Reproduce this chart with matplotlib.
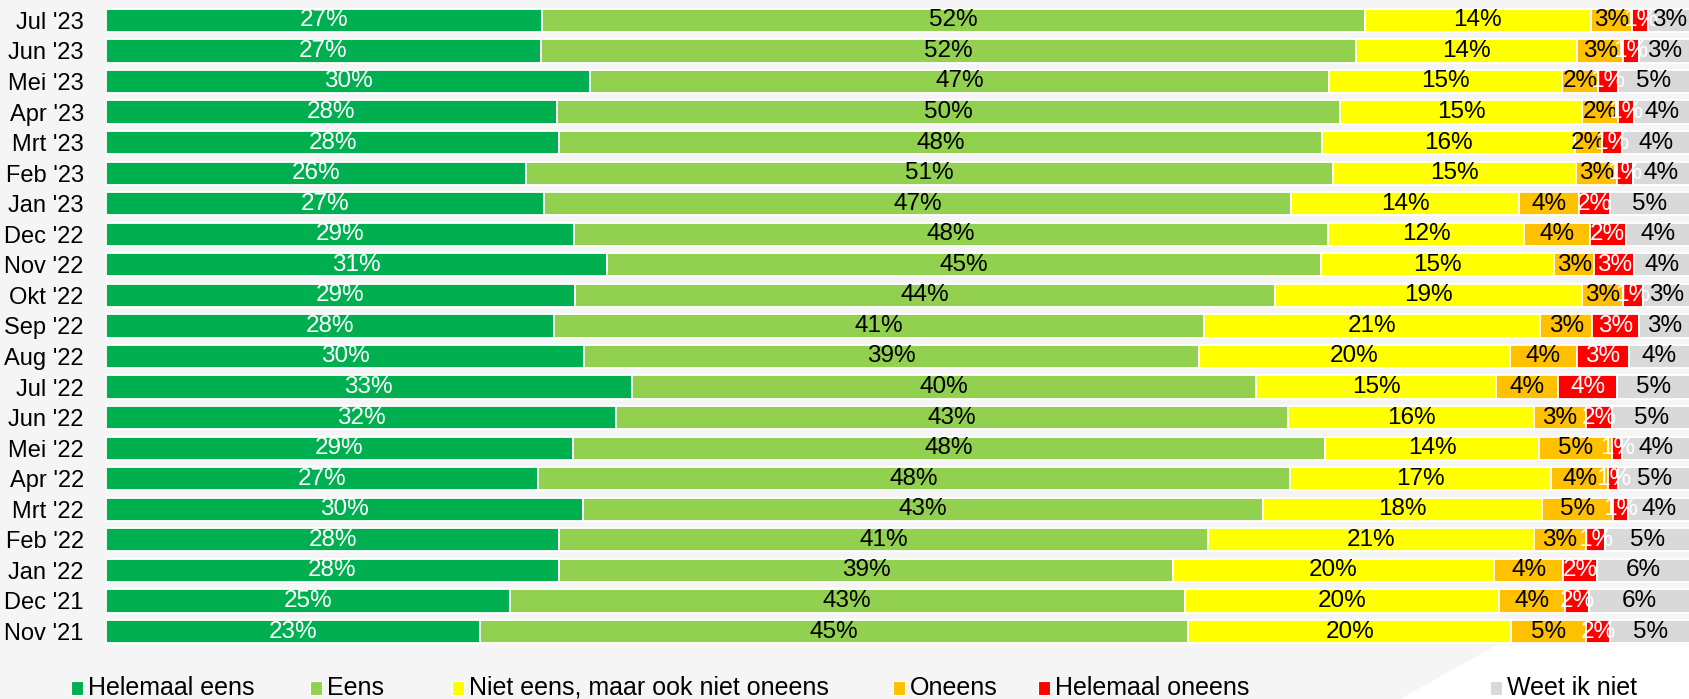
import numpy as np
import matplotlib
matplotlib.use("Agg")
import matplotlib.pyplot as plt
from matplotlib import font_manager
from matplotlib.patches import Rectangle, Polygon

# font: narrow sans if available
names = {f.name for f in font_manager.fontManager.ttflist}
fam = "Liberation Sans Narrow" if "Liberation Sans Narrow" in names else "Liberation Sans"
plt.rcParams["font.family"] = [fam, "DejaVu Sans"]

# data (top row first)
months = ["Jul '23", "Jun '23", "Mei '23", "Apr '23", "Mrt '23", "Feb '23", "Jan '23",
          "Dec '22", "Nov '22", "Okt '22", "Sep '22", "Aug '22", "Jul '22", "Jun '22",
          "Mei '22", "Apr '22", "Mrt '22", "Feb '22", "Jan '22", "Dec '21", "Nov '21"]

helemaal_eens = [27.49, 27.49, 30.49, 28.49, 28.49, 26.49, 27.49, 29.49, 31.49, 29.49, 28.26,
                 30.20, 33.25, 32.26, 29.49, 27.34, 30.09, 28.49, 28.49, 25.49, 23.49]
eens = [51.87, 51.51, 46.51, 49.51, 47.94, 50.91, 46.86, 47.51, 44.95, 44.03, 41.05,
        38.81, 39.51, 42.51, 47.51, 47.51, 42.93, 40.81, 38.64, 42.66, 44.51]
neutraal = [14.23, 13.98, 14.67, 15.28, 15.91, 15.28, 14.31, 12.37, 14.65, 19.27, 21.23,
            19.63, 15.20, 15.61, 13.53, 16.51, 17.63, 20.51, 20.16, 19.87, 20.27]
oneens = [2.63, 2.94, 2.29, 2.29, 1.68, 2.63, 3.79, 4.12, 2.53, 2.61, 3.28,
          4.21, 3.93, 3.24, 4.61, 3.64, 4.51, 3.24, 4.38, 4.17, 4.72]
helemaal_oneens = [1.01, 0.97, 1.22, 0.99, 1.24, 0.97, 1.89, 2.25, 2.51, 1.26, 2.93,
                   3.28, 3.69, 1.69, 0.63, 0.63, 0.95, 1.24, 2.13, 1.51, 1.52]
weet_niet = [2.63, 3.24, 4.56, 3.54, 4.29, 3.62, 5.05, 4.06, 3.51, 2.95, 3.24,
             3.87, 4.63, 4.92, 4.27, 4.53, 3.90, 5.32, 5.83, 6.36, 5.01]

series = ["Helemaal eens", "Eens", "Niet eens, maar ook niet oneens", "Oneens",
          "Helemaal oneens", "Weet ik niet"]
colors = ["#00B050", "#92D050", "#FFFF00", "#FFC000", "#FF0000", "#D9D9D9"]
text_colors = ["white", "black", "black", "black", "white", "black"]

vals = np.array([helemaal_eens, eens, neutraal, oneens, helemaal_oneens, weet_niet])
totals = vals.sum(axis=0)
widths = vals / totals * 100

fig = plt.figure(figsize=(16.9, 6.99), dpi=100)
fig.patch.set_facecolor("#F5F5F5")
# white corner shape bottom right
fig.patches.append(Polygon([(1497 / 1690, 1 - 645 / 699), (1, 1 - 645 / 699), (1, 0), (1400 / 1690, 0)],
                           closed=True, transform=fig.transFigure, facecolor="white",
                           edgecolor="none", zorder=0))

ax = fig.add_axes([106 / 1690, 0.0747, 1 - 106 / 1690, 0.918])
ax.set_facecolor("none")

y = np.arange(len(months))
left = np.zeros(len(months))
for i in range(len(series)):
    ax.barh(y, widths[i], left=left, height=0.76, color=colors[i], edgecolor="white",
            linewidth=1.3)
    for j in range(len(months)):
        ax.text(left[j] + widths[i][j] / 2, y[j], f"{round(vals[i][j])}%", ha="center",
                va="center", fontsize=17.5, color=text_colors[i])
    left += widths[i]

ax.set_xlim(0, 100)
ax.set_ylim(len(months) - 0.5, -0.5)
ax.set_yticks(y)
ax.set_yticklabels(months, fontsize=17)
ax.tick_params(axis="y", length=0, pad=16)
ax.set_xticks([])
for s in ax.spines.values():
    s.set_visible(False)

# legend
leg_x = [71, 310, 452, 893, 1038, 1490]
for i in range(len(series)):
    fig.patches.append(Rectangle((leg_x[i] / 1690, 1 - 695 / 699), 12 / 1690, 14 / 699,
                                 transform=fig.transFigure, facecolor=colors[i],
                                 edgecolor="white", linewidth=0.8))
    fig.text((leg_x[i] + 17) / 1690, 1 - 688 / 699, series[i], fontsize=18,
             va="center", ha="left")

fig.savefig("out.png", dpi=100, facecolor=fig.get_facecolor())
